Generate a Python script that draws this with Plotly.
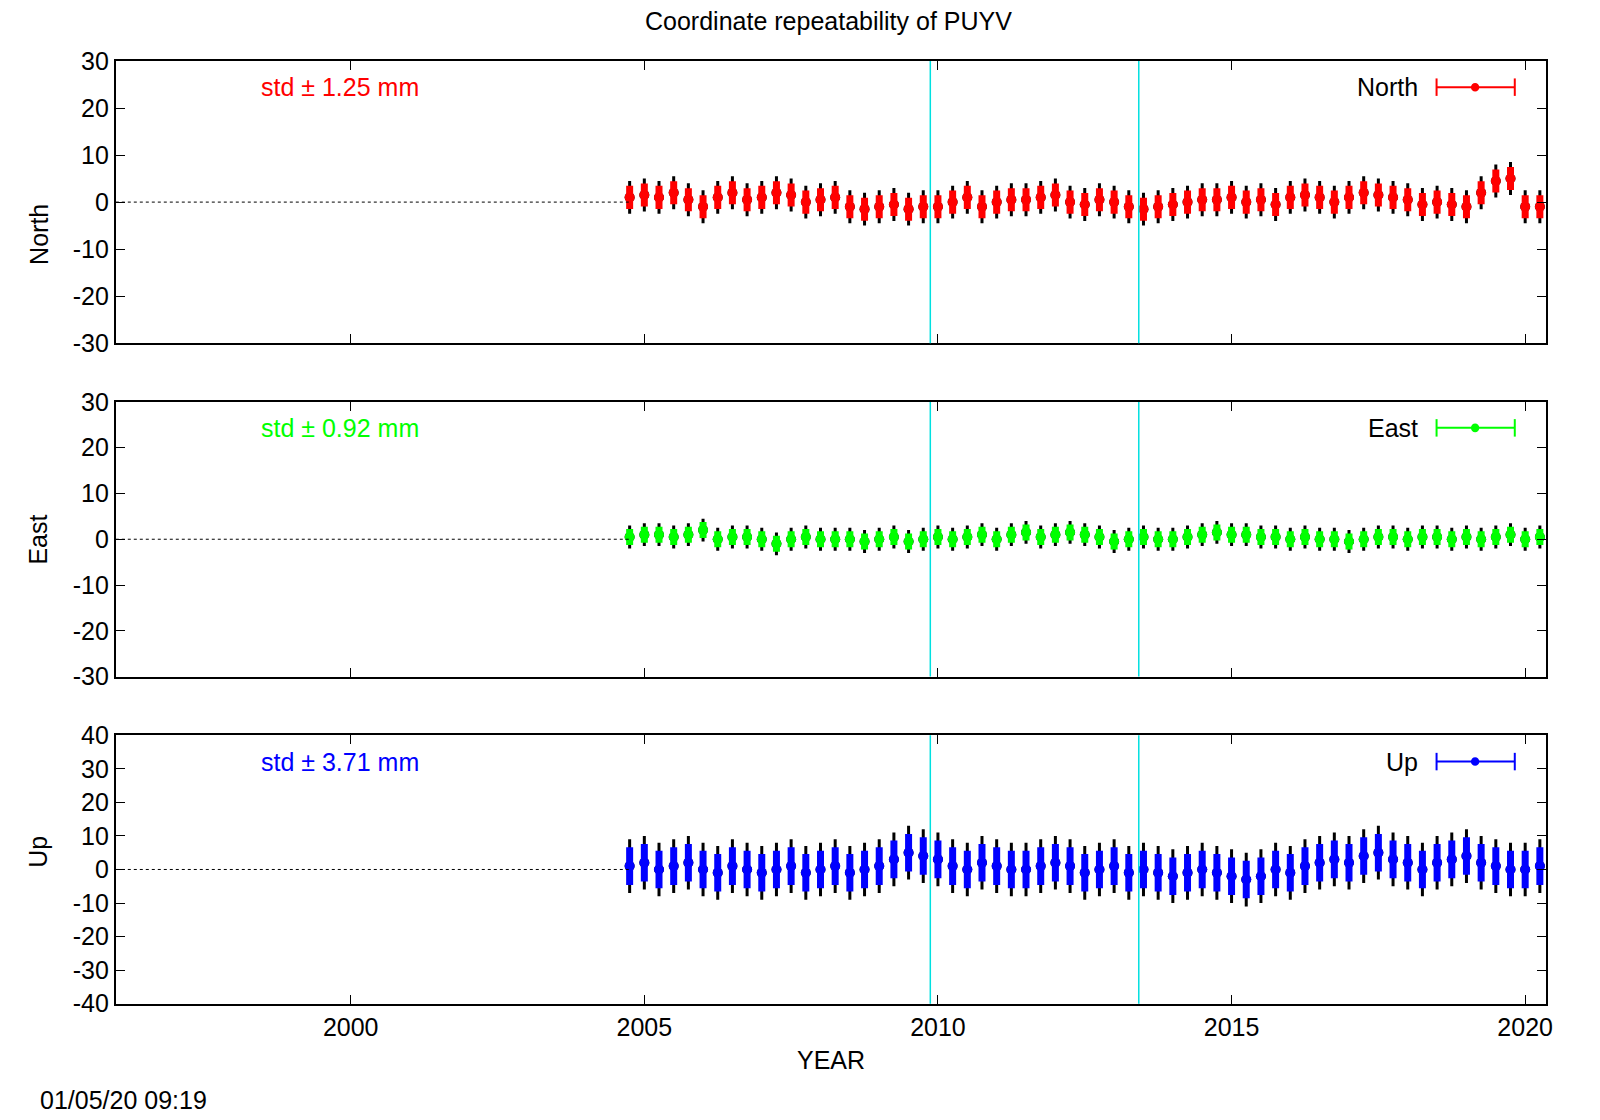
import plotly.graph_objects as go

# quarterly samples (mm)
YEARS = [2004.75, 2005.0, 2005.25, 2005.5, 2005.75, 2006.0, 2006.25, 2006.5,
         2006.75, 2007.0, 2007.25, 2007.5, 2007.75, 2008.0, 2008.25, 2008.5,
         2008.75, 2009.0, 2009.25, 2009.5, 2009.75, 2010.0, 2010.25, 2010.5,
         2010.75, 2011.0, 2011.25, 2011.5, 2011.75, 2012.0, 2012.25, 2012.5,
         2012.75, 2013.0, 2013.25, 2013.5, 2013.75, 2014.0, 2014.25, 2014.5,
         2014.75, 2015.0, 2015.25, 2015.5, 2015.75, 2016.0, 2016.25, 2016.5,
         2016.75, 2017.0, 2017.25, 2017.5, 2017.75, 2018.0, 2018.25, 2018.5,
         2018.75, 2019.0, 2019.25, 2019.5, 2019.75, 2020.0, 2020.25]

NORTH = [1, 1.5, 1, 2, 0.5, -1, 1, 2,
         0.5, 1, 2, 1.5, 0, 0.5, 1, -1,
         -1.5, -1, -0.5, -1.5, -1, -1, 0, 1,
         -1, 0, 0.5, 0.5, 1, 1.5, 0, -0.5,
         0.5, 0, -1, -1.5, -1, -0.5, 0, 0.5,
         0.5, 1, 0, 0.5, -0.5, 1, 1.5, 1,
         0, 1, 2, 1.5, 1, 0.5, -0.5, 0,
         -0.5, -1, 2, 4.5, 5, -1, -1]
EAST = [0.5, 1, 1, 0.5, 1, 2, 0, 0.5,
        0.5, 0, -1, 0, 0.5, 0, 0, 0,
        -0.5, 0, 0.5, -0.5, 0, 0.5, 0, 0.5,
        1, 0, 1, 1.5, 0.5, 1, 1.5, 1,
        0.5, -0.5, 0, 0.5, 0, 0, 0.5, 1,
        1.5, 1, 1, 0.5, 0.5, 0, 0.5, 0,
        0, -0.5, 0, 0.5, 0.5, 0, 0.5, 0.5,
        0, 0.5, 0, 0.5, 1, 0, 0.5]
UP = [1, 2, 0, 1, 2, 0, -1, 1,
      0, -1, 0, 1, -1, 0, 1, -1,
      0, 1, 3, 5, 4, 3, 1, 0,
      2, 1, 0, 0, 1, 2, 1, -1,
      0, 1, -1, 0, -1, -2, -1, 0,
      -1, -2, -3, -2, 0, -1, 1, 2,
      3, 2, 4, 5, 3, 2, 0, 2,
      3, 4, 2, 1, 0, 0, 1]

COMPONENTS = ['North', 'East', 'Up']
SERIES = [NORTH, EAST, UP]
SPREAD = [3.5, 2.5, 8]
STD_TEXT = ['std ± 1.25 mm', 'std ± 0.92 mm', 'std ± 3.71 mm']
COLORS = ['#ff0000', '#00ff00', '#0000ff']
Y_TICKS = [[-30, -20, -10, 0, 10, 20, 30],
           [-30, -20, -10, 0, 10, 20, 30],
           [-40, -30, -20, -10, 0, 10, 20, 30, 40]]
BREAKS = [2009.87, 2013.42]

FONT = 'Liberation Sans, Arial, sans-serif'
FS = 25
domains = [[0.6985, 0.957], [0.3933, 0.6447], [0.0937, 0.3395]]
leg_y = [0.933, 0.621, 0.3154]

fig = go.Figure()
shapes, annotations = [], []

for i, (name, vals) in enumerate(zip(COMPONENTS, SERIES)):
    n = '' if i == 0 else str(i + 1)
    xa, ya = 'x' + n, 'y' + n
    fig.add_trace(go.Scatter(
        x=YEARS, y=vals, xaxis=xa, yaxis=ya, mode='markers',
        marker=dict(size=10, color='black'),
        error_y=dict(type='constant', value=SPREAD[i], color='black', thickness=3, width=0),
        showlegend=False))
    fig.add_trace(go.Scatter(
        x=YEARS, y=vals, xaxis=xa, yaxis=ya, mode='markers',
        marker=dict(size=10, color=COLORS[i]),
        error_y=dict(type='constant', value=SPREAD[i] * 0.7, color=COLORS[i], thickness=7, width=0),
        showlegend=False))
    # dotted zero line before data
    shapes.append(dict(type='line', xref=xa, yref=ya, x0=1996, x1=YEARS[0], y0=0, y1=0,
                       line=dict(color='black', width=1, dash='dot')))
    for b in BREAKS:
        shapes.append(dict(type='line', xref=xa, yref=ya + ' domain', x0=b, x1=b, y0=0, y1=1,
                           line=dict(color='#00e0e0', width=1.5)))
    # legend sample
    shapes.append(dict(type='line', xref='paper', yref='paper', x0=0.9018, x1=0.9509,
                       y0=leg_y[i], y1=leg_y[i], line=dict(color=COLORS[i], width=2)))
    for xe in (0.9018, 0.9509):
        shapes.append(dict(type='line', xref='paper', yref='paper', x0=xe, x1=xe,
                           y0=leg_y[i] - 0.008, y1=leg_y[i] + 0.008, line=dict(color=COLORS[i], width=2)))
    shapes.append(dict(type='circle', xref='paper', yref='paper', x0=0.924, x1=0.928,
                       y0=leg_y[i] - 0.003, y1=leg_y[i] + 0.003,
                       fillcolor=COLORS[i], line=dict(color=COLORS[i])))
    annotations.append(dict(text=name, xref='paper', yref='paper', x=0.8916, y=leg_y[i],
                            xanchor='right', yanchor='middle', showarrow=False,
                            font=dict(size=FS, color='black', family=FONT)))
    annotations.append(dict(text=STD_TEXT[i], xref='paper', yref='paper', x=0.1625, y=leg_y[i],
                            xanchor='left', yanchor='middle', showarrow=False,
                            font=dict(size=FS, color=COLORS[i], family=FONT)))
    annotations.append(dict(text=name, xref='paper', yref='paper', x=0.014,
                            y=sum(domains[i]) / 2, textangle=-90, showarrow=False,
                            font=dict(size=FS, color='black', family=FONT)))

    axis_common = dict(showline=True, linecolor='black', linewidth=2, mirror='allticks',
                       ticks='inside', ticklen=9, tickcolor='black', showgrid=False,
                       zeroline=False, tickfont=dict(size=FS, family=FONT, color='black'))
    fig.layout['xaxis' + n] = dict(
        domain=[0.0727, 0.9707], range=[1996, 2020.36], anchor=ya, dtick=5, tick0=2000,
        showticklabels=(i == 2), **axis_common,
        **({'title': dict(text='YEAR', font=dict(size=FS, family=FONT, color='black'), standoff=12)}
           if i == 2 else {}))
    fig.layout['yaxis' + n] = dict(domain=domains[i], range=[Y_TICKS[i][0], Y_TICKS[i][-1]],
                                   tickvals=Y_TICKS[i], ticktext=[str(t) for t in Y_TICKS[i]],
                                   anchor=xa, **axis_common)

annotations.append(dict(text='Coordinate repeatability of PUYV', xref='paper', yref='paper',
                        x=0.52, y=0.9935, yanchor='middle', showarrow=False,
                        font=dict(size=FS, color='black', family=FONT)))
annotations.append(dict(text='01/05/20 09:19', xref='paper', yref='paper', x=0.0236, y=0.0056,
                        xanchor='left', yanchor='middle', showarrow=False,
                        font=dict(size=FS, color='black', family=FONT)))

fig.update_layout(margin=dict(l=0, r=0, t=0, b=0), autosize=True,
                  paper_bgcolor='white', plot_bgcolor='white',
                  shapes=shapes, annotations=annotations)

fig.write_html('out.html', default_width='100vw', default_height='100vh',
               config={'displayModeBar': False},
               post_script="document.body.style.margin='0';document.body.style.overflow='hidden';"
                           "window.dispatchEvent(new Event('resize'));")
